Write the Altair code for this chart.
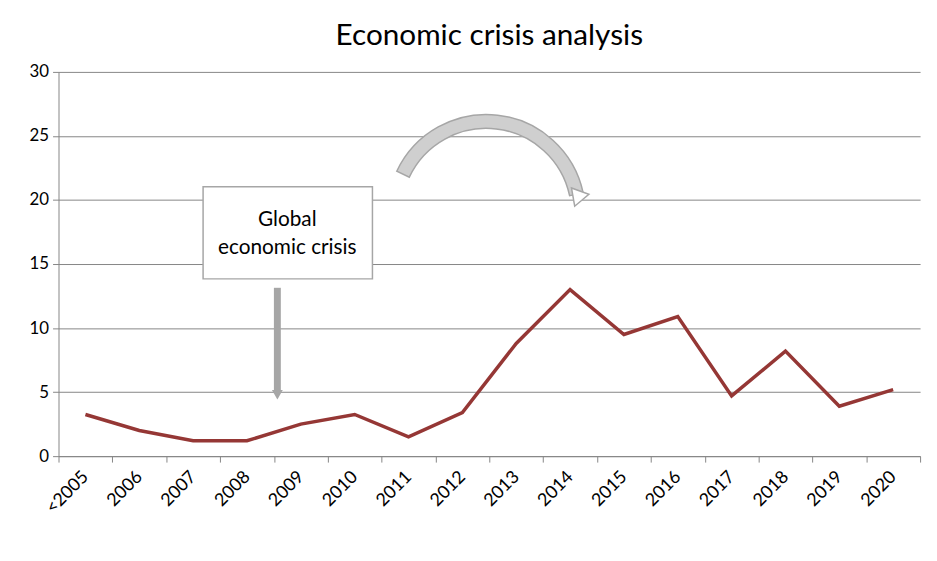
import altair as alt
import pandas as pd

years = ['<2005', '2006', '2007', '2008', '2009', '2010', '2011', '2012',
         '2013', '2014', '2015', '2016', '2017', '2018', '2019', '2020']
values = [3.25, 2.0, 1.2, 1.2, 2.5, 3.25, 1.5, 3.4,
          8.8, 13.0, 9.5, 10.9, 4.7, 8.2, 3.9, 5.2]

df = pd.DataFrame({'Year': years, 'Value': values})
one = pd.DataFrame({'a': [0]})

FONT = 'Lato'

line = alt.Chart(df).mark_line(color='#953735', strokeWidth=3.5).encode(
    x=alt.X('Year:O', sort=years, title=None,
            scale=alt.Scale(paddingInner=0, paddingOuter=0),
            axis=alt.Axis(labelAngle=-45, labelAlign='right', labelBaseline='middle',
                          labelFontSize=18, labelColor='black', labelFont=FONT,
                          tickBand='extent', tickColor='#868686', domainColor='#868686',
                          labelPadding=12, tickSize=6)),
    y=alt.Y('Value:Q', title=None, scale=alt.Scale(domain=[0, 30]),
            axis=alt.Axis(values=[0, 5, 10, 15, 20, 25, 30], labelFontSize=17,
                          labelColor='black', labelFont=FONT, grid=True,
                          gridColor='#868686', domainColor='#868686',
                          tickColor='#868686', tickSize=6, labelPadding=4))
)

box = alt.Chart(one).mark_rect(fill='white', stroke='#a6a6a6', strokeWidth=1.5).encode(
    x=alt.value(146), x2=alt.value(317), y=alt.value(116), y2=alt.value(209))
boxtext = alt.Chart(one).mark_text(fontSize=21, font=FONT, lineBreak='\n', lineHeight=28,
                                   align='center', baseline='middle').encode(
    x=alt.value(231), y=alt.value(150), text=alt.value('Global\neconomic crisis'))

down = alt.Chart(one).mark_rule(color='#a6a6a6', strokeWidth=7).encode(
    x=alt.value(221), y=alt.value(218), y2=alt.value(322))
downhead = alt.Chart(one).mark_point(shape='triangle-down', filled=True, color='#a6a6a6',
                                     size=120, opacity=1).encode(
    x=alt.value(221), y=alt.value(326))

arc = alt.Chart(one).mark_arc(fill='#cfcfcf', stroke='#a6a6a6', strokeWidth=1.5).encode(
    x=alt.value(432), y=alt.value(143), theta=alt.value(-1.13), theta2=alt.value(1.36),
    radius=alt.value(100), radius2=alt.value(86))
archead = alt.Chart(one).mark_point(shape='triangle-down', filled=True, fill='white',
                                    stroke='#a6a6a6', strokeWidth=1.5, size=350,
                                    opacity=1, angle=20).encode(
    x=alt.value(524), y=alt.value(128))

chart = alt.layer(line, box, boxtext, down, downhead, arc, archead).properties(
    width=870, height=388,
    title=alt.TitleParams('Economic crisis analysis', fontSize=30, font=FONT,
                          fontWeight='normal', offset=12, anchor='middle'),
    padding={'left': 21, 'top': 11, 'right': 8, 'bottom': 5}
).configure_view(stroke=None)

chart.save("out.html", embed_options={"renderer": "svg", "actions": False})
